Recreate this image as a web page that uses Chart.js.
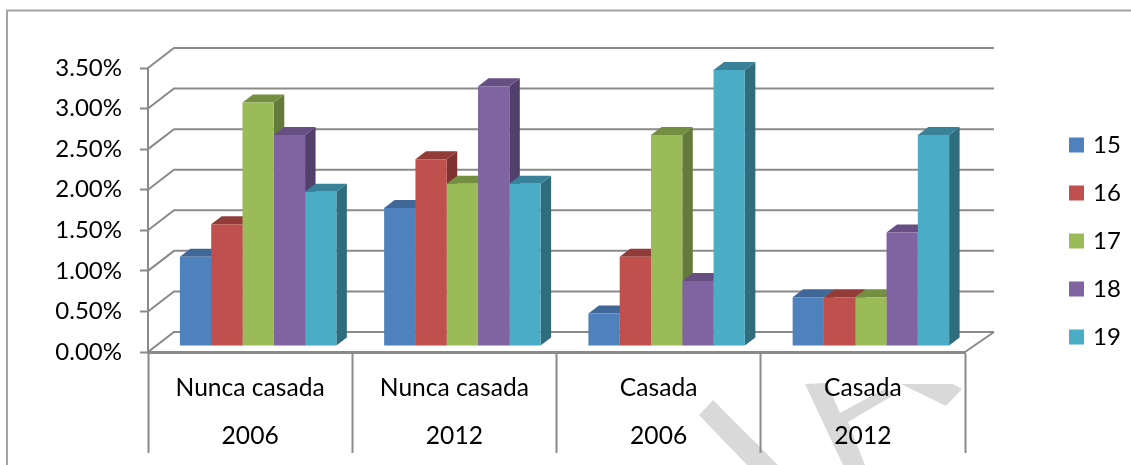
<!DOCTYPE html>
<html>
<head>
<meta charset="utf-8">
<title>Chart</title>
<script src="https://cdn.jsdelivr.net/npm/chart.js@4"></script>
<style>
  html, body { margin: 0; padding: 0; background: #fff; overflow: hidden; }
  #wrap { position: relative; width: 1131px; height: 465px; }
  #wrap svg, #wrap canvas { position: absolute; left: 0; top: 0; }
</style>
</head>
<body>
<div id="wrap">
  <!-- page frame and the watermark that sits behind the chart -->
  <svg width="1131" height="465">
    <polyline points="7,465 7,10.5 1131,10.5" fill="none" stroke="#a3a3a3" stroke-width="2"/>
    <g fill="#d9d9d9">
      <polygon points="699,415 713,400 778,465 747,465"/>
      <polygon points="805,384 827,383 840,413 886,388 892,396 848,422 865,465 843,465"/>
      <polygon points="901,384 953,384 962,389 946,406"/>
    </g>
  </svg>
  <canvas id="chart" width="1131" height="465"></canvas>
</div>
<script>
const categories = [
  ["Nunca casada", "2006"],
  ["Nunca casada", "2012"],
  ["Casada", "2006"],
  ["Casada", "2012"],
];
const ages = ["15", "16", "17", "18", "19"];

const age15 = [1.1, 1.7, 0.4, 0.6];
const age16 = [1.5, 2.3, 1.1, 0.6];
const age17 = [3.0, 2.0, 2.6, 0.6];
const age18 = [2.6, 3.2, 0.8, 1.4];
const age19 = [1.9, 2.0, 3.4, 2.6];
const seriesValues = [age15, age16, age17, age18, age19];

const frontColors = ["#4f81bd", "#c0504d", "#9bbb59", "#8064a2", "#4bacc6"];
const topColors = ["#3f6797", "#913c39", "#748f42", "#674f84", "#388198"];
const sideColors = ["#335478", "#7e3330", "#647a3a", "#533f6b", "#2f6c7c"];

const AXIS_GRAY = "#8a8a8a";
const TEXT_COLOR = "#000";
const FONT = "Lato";
const FONT_SIZE = 24;
const X_FONT_SIZE = 24.6;

// the bars stand a bit inside the floor, and the walls sit behind them
const WALL_DX = 26, WALL_DY = 20;
const BAR_SHIFT_X = 8, BAR_SHIFT_Y = -6;
const BAR_DX = 10.5, BAR_DY = 8;

function poly(ctx, color, pts) {
  ctx.fillStyle = color;
  ctx.beginPath();
  pts.forEach((p, i) => (i ? ctx.lineTo(p[0], p[1]) : ctx.moveTo(p[0], p[1])));
  ctx.closePath();
  ctx.fill();
}

const fake3d = {
  id: "fake3d",
  afterLayout(chart) {
    // legend goes where the original has it, outside the plot
    const lg = chart.legend;
    lg.left = 1048; lg.right = 1131; lg.width = 83;
    lg.top = 109; lg.bottom = 400; lg.height = 291;
  },
  beforeDatasetsDraw(chart) {
    const { ctx, chartArea, scales } = chart;
    const left = chartArea.left, right = chartArea.right;

    ctx.save();
    ctx.strokeStyle = AXIS_GRAY;
    ctx.lineWidth = 2;
    scales.y.ticks.forEach((t) => {
      const y = scales.y.getPixelForValue(t.value);
      ctx.beginPath();
      ctx.moveTo(left, y);
      ctx.lineTo(left + WALL_DX, y - WALL_DY);
      ctx.lineTo(right + WALL_DX + 3, y - WALL_DY);
      ctx.stroke();
    });
    ctx.beginPath();
    ctx.moveTo(right, chartArea.bottom);
    ctx.lineTo(right + WALL_DX + 3, chartArea.bottom - WALL_DY);
    ctx.stroke();
    ctx.restore();

    // datasets get drawn inside this translate, restored in afterDatasetsDraw
    ctx.save();
    ctx.translate(BAR_SHIFT_X, BAR_SHIFT_Y);

    categories.forEach((c, i) => {
      seriesValues.forEach((s, j) => {
        const bar = chart.getDatasetMeta(j).data[i];
        const l = bar.x - bar.width / 2, r = bar.x + bar.width / 2;
        poly(ctx, sideColors[j], [
          [r, bar.y], [r + BAR_DX, bar.y - BAR_DY],
          [r + BAR_DX, bar.base - BAR_DY], [r, bar.base],
        ]);
        poly(ctx, topColors[j], [
          [l, bar.y], [l + BAR_DX, bar.y - BAR_DY],
          [r + BAR_DX, bar.y - BAR_DY], [r, bar.y],
        ]);
      });
    });
  },
  afterDatasetsDraw(chart) {
    chart.ctx.restore();
  },
};

new Chart(document.getElementById("chart"), {
  type: "bar",
  data: {
    labels: categories,
    datasets: ages.map((age, j) => ({
      label: age,
      data: seriesValues[j],
      backgroundColor: frontColors[j],
      borderWidth: 0,
      categoryPercentage: 0.766,
      barPercentage: 1,
    })),
  },
  options: {
    responsive: false,
    animation: false,
    layout: { padding: { top: 68, right: 166 } },
    plugins: {
      tooltip: { enabled: false },
      legend: {
        position: "chartArea",
        align: "start",
        onClick: null,
        labels: {
          // small box with a thick same-colour stroke, keeps the text close to the swatch
          boxWidth: 9,
          boxHeight: 9,
          padding: 24,
          color: TEXT_COLOR,
          font: { family: FONT, size: FONT_SIZE },
          generateLabels: (chart) =>
            Chart.defaults.plugins.legend.labels.generateLabels(chart).map((item) => ({
              ...item,
              strokeStyle: item.fillStyle,
              lineWidth: 6,
            })),
        },
      },
    },
    scales: {
      x: {
        afterFit: (scale) => { scale.height = 113; },
        grid: { drawOnChartArea: false, tickLength: 101, tickWidth: 2, tickColor: AXIS_GRAY },
        border: { color: AXIS_GRAY, width: 3 },
        ticks: {
          autoSkip: false,
          maxRotation: 0,
          padding: -89,
          color: TEXT_COLOR,
          font: { family: FONT, size: X_FONT_SIZE, lineHeight: 48 / X_FONT_SIZE },
        },
      },
      y: {
        min: 0,
        max: 3.5,
        afterFit: (scale) => { scale.width = 148; },
        grid: { drawOnChartArea: false, tickLength: 8, tickWidth: 2, tickColor: AXIS_GRAY },
        border: { color: AXIS_GRAY, width: 2 },
        ticks: {
          stepSize: 0.5,
          padding: 18,
          color: TEXT_COLOR,
          font: { family: FONT, size: FONT_SIZE },
          callback: (v) => v.toFixed(2) + "%",
        },
      },
    },
  },
  plugins: [fake3d],
});
</script>
</body>
</html>
